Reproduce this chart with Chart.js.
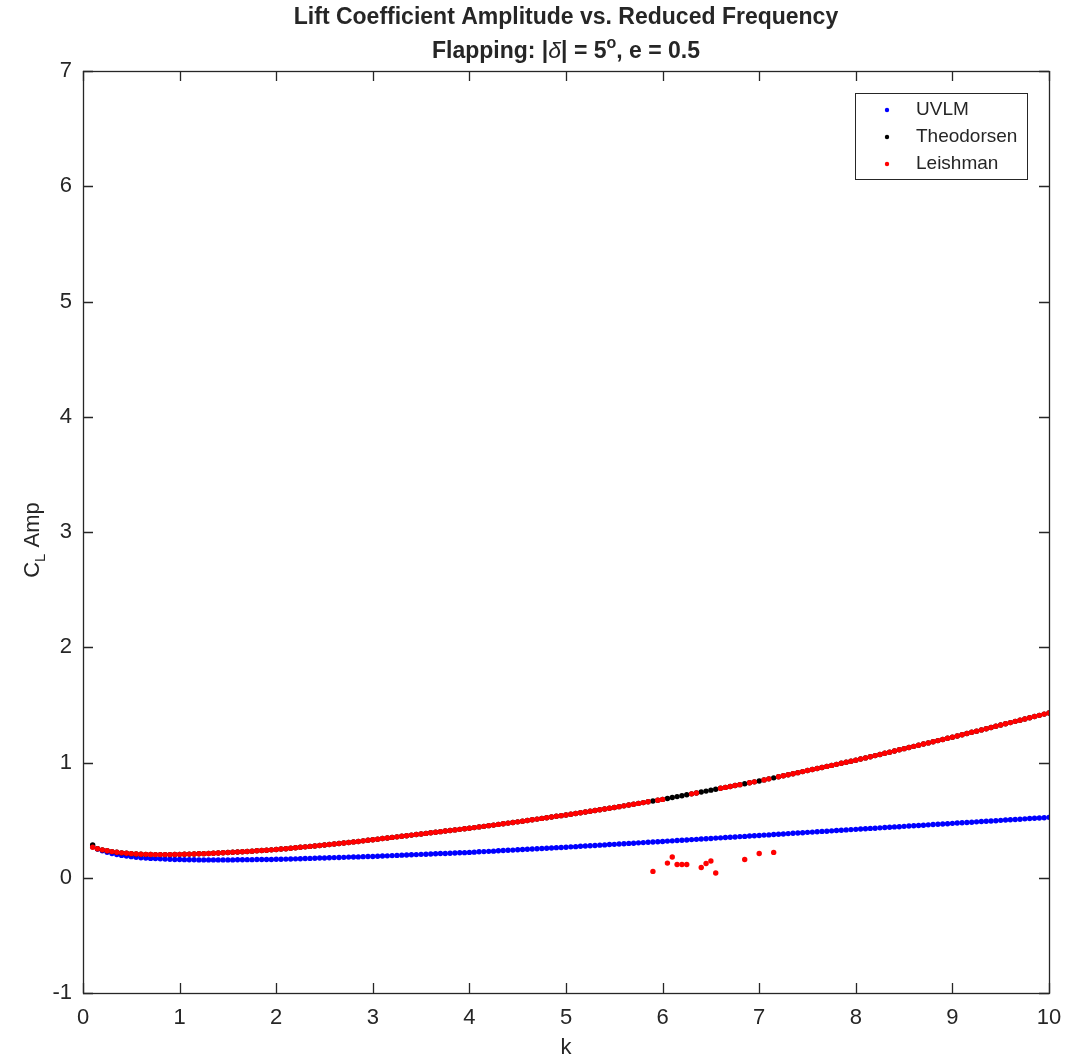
<!DOCTYPE html>
<html>
<head>
<meta charset="utf-8">
<script src="https://cdn.jsdelivr.net/npm/chart.js@4.4.0/dist/chart.umd.min.js"></script>
<style>
  html, body { margin: 0; padding: 0; background: #fff; }
</style>
</head>
<body>
<canvas id="chart" width="1067" height="1062"></canvas>
<script>
// reduced frequency grid: k = 0.1 : 0.05 : 10
const kStart = 0.1;
const kStep = 0.05;

const uvlmAmp = [
  0.270, 0.250, 0.234, 0.221, 0.210, 0.201, 0.194, 0.188, 0.183, 0.178, 0.174, 0.171, 0.168, 0.166, 0.164, 0.162, 0.160, 0.159, 0.158, 0.157,
  0.156, 0.156, 0.155, 0.155, 0.155, 0.155, 0.155, 0.155, 0.155, 0.155, 0.156, 0.156, 0.157, 0.157, 0.158, 0.158, 0.159, 0.159, 0.160,
  0.161, 0.162, 0.163, 0.164, 0.165, 0.167, 0.168, 0.169, 0.171, 0.172, 0.173, 0.175, 0.176, 0.177, 0.179, 0.180, 0.181, 0.183, 0.184, 0.185,
  0.187, 0.189, 0.190, 0.192, 0.194, 0.196, 0.197, 0.199, 0.201, 0.203, 0.204, 0.206, 0.208, 0.210, 0.211, 0.213, 0.215, 0.217, 0.218, 0.220,
  0.222, 0.225, 0.227, 0.229, 0.231, 0.234, 0.236, 0.238, 0.240, 0.243, 0.245, 0.247, 0.249, 0.252, 0.254, 0.256, 0.258, 0.261, 0.263, 0.265,
  0.268, 0.270, 0.273, 0.275, 0.278, 0.280, 0.283, 0.285, 0.288, 0.290, 0.293, 0.295, 0.298, 0.300, 0.303, 0.305, 0.308, 0.310, 0.313, 0.315,
  0.318, 0.320, 0.323, 0.325, 0.328, 0.331, 0.333, 0.336, 0.338, 0.341, 0.344, 0.346, 0.349, 0.351, 0.354, 0.357, 0.359, 0.362, 0.364, 0.367,
  0.370, 0.372, 0.375, 0.378, 0.380, 0.383, 0.386, 0.388, 0.391, 0.394, 0.396, 0.399, 0.402, 0.404, 0.407, 0.410, 0.412, 0.415, 0.418, 0.420,
  0.423, 0.425, 0.428, 0.430, 0.433, 0.436, 0.438, 0.441, 0.443, 0.446, 0.449, 0.451, 0.454, 0.456, 0.459, 0.462, 0.464, 0.467, 0.469, 0.472,
  0.475, 0.477, 0.480, 0.482, 0.485, 0.488, 0.490, 0.493, 0.495, 0.498, 0.501, 0.503, 0.506, 0.508, 0.511, 0.514, 0.516, 0.519, 0.521, 0.524
];

const theodorsenAmp = [
  0.285, 0.252, 0.242, 0.234, 0.227, 0.221, 0.216, 0.212, 0.209, 0.206, 0.204, 0.203, 0.202, 0.201, 0.201, 0.201, 0.201, 0.202, 0.203, 0.204,
  0.205, 0.206, 0.208, 0.209, 0.211, 0.213, 0.215, 0.217, 0.219, 0.221, 0.223, 0.226, 0.228, 0.231, 0.234, 0.236, 0.239, 0.242, 0.245,
  0.249, 0.252, 0.256, 0.260, 0.264, 0.268, 0.272, 0.276, 0.280, 0.284, 0.288, 0.293, 0.297, 0.302, 0.306, 0.311, 0.315, 0.320, 0.325, 0.330,
  0.335, 0.340, 0.345, 0.350, 0.355, 0.360, 0.365, 0.370, 0.375, 0.380, 0.385, 0.390, 0.395, 0.400, 0.405, 0.410, 0.415, 0.420, 0.425, 0.430,
  0.435, 0.441, 0.446, 0.452, 0.457, 0.463, 0.468, 0.474, 0.479, 0.485, 0.491, 0.497, 0.503, 0.509, 0.515, 0.521, 0.527, 0.533, 0.539, 0.545,
  0.551, 0.558, 0.564, 0.571, 0.577, 0.584, 0.590, 0.597, 0.603, 0.610, 0.617, 0.624, 0.631, 0.638, 0.645, 0.652, 0.659, 0.666, 0.673, 0.680,
  0.688, 0.696, 0.704, 0.712, 0.720, 0.728, 0.736, 0.744, 0.752, 0.760, 0.768, 0.776, 0.784, 0.792, 0.800, 0.808, 0.816, 0.824, 0.832, 0.840,
  0.849, 0.858, 0.867, 0.876, 0.885, 0.894, 0.903, 0.912, 0.921, 0.930, 0.939, 0.948, 0.957, 0.966, 0.975, 0.984, 0.993, 1.002, 1.011, 1.020,
  1.030, 1.040, 1.050, 1.060, 1.070, 1.080, 1.090, 1.100, 1.110, 1.120, 1.130, 1.140, 1.150, 1.160, 1.170, 1.180, 1.190, 1.200, 1.210, 1.220,
  1.230, 1.241, 1.251, 1.262, 1.272, 1.283, 1.293, 1.304, 1.314, 1.325, 1.336, 1.346, 1.357, 1.367, 1.378, 1.388, 1.399, 1.409, 1.420, 1.430
];

const leishmanAmp = [
  0.265, 0.252, 0.242, 0.234, 0.227, 0.221, 0.216, 0.212, 0.209, 0.206, 0.204, 0.203, 0.202, 0.201, 0.201, 0.201, 0.201, 0.202, 0.203, 0.204,
  0.205, 0.206, 0.208, 0.209, 0.211, 0.213, 0.215, 0.217, 0.219, 0.221, 0.223, 0.226, 0.228, 0.231, 0.234, 0.236, 0.239, 0.242, 0.245,
  0.249, 0.252, 0.256, 0.260, 0.264, 0.268, 0.272, 0.276, 0.280, 0.284, 0.288, 0.293, 0.297, 0.302, 0.306, 0.311, 0.315, 0.320, 0.325, 0.330,
  0.335, 0.340, 0.345, 0.350, 0.355, 0.360, 0.365, 0.370, 0.375, 0.380, 0.385, 0.390, 0.395, 0.400, 0.405, 0.410, 0.415, 0.420, 0.425, 0.430,
  0.435, 0.441, 0.446, 0.452, 0.457, 0.463, 0.468, 0.474, 0.479, 0.485, 0.491, 0.497, 0.503, 0.509, 0.515, 0.521, 0.527, 0.533, 0.539, 0.545,
  0.551, 0.558, 0.564, 0.571, 0.577, 0.584, 0.590, 0.597, 0.603, 0.610, 0.617, 0.624, 0.631, 0.638, 0.645, 0.652, 0.659, 0.055, 0.673, 0.680,
  0.127, 0.180, 0.115, 0.115, 0.115, 0.728, 0.736, 0.089, 0.124, 0.145, 0.041, 0.776, 0.784, 0.792, 0.800, 0.808, 0.159, 0.824, 0.832, 0.211,
  0.849, 0.858, 0.220, 0.876, 0.885, 0.894, 0.903, 0.912, 0.921, 0.930, 0.939, 0.948, 0.957, 0.966, 0.975, 0.984, 0.993, 1.002, 1.011, 1.020,
  1.030, 1.040, 1.050, 1.060, 1.070, 1.080, 1.090, 1.100, 1.110, 1.120, 1.130, 1.140, 1.150, 1.160, 1.170, 1.180, 1.190, 1.200, 1.210, 1.220,
  1.230, 1.241, 1.251, 1.262, 1.272, 1.283, 1.293, 1.304, 1.314, 1.325, 1.336, 1.346, 1.357, 1.367, 1.378, 1.388, 1.399, 1.409, 1.420, 1.430
];

const xTicks = [0, 1, 2, 3, 4, 5, 6, 7, 8, 9, 10];
const yTicks = [-1, 0, 1, 2, 3, 4, 5, 6, 7];

const frameColor = '#262626';
const fontFamily = "'Liberation Sans', Arial, Helvetica, sans-serif";

const kValues = uvlmAmp.map((_, i) => +(kStart + i * kStep).toFixed(2));
const toPoints = vals => vals.map((v, i) => ({ x: kValues[i], y: v }));

const series = [
  { label: 'UVLM', data: uvlmAmp, color: '#0000ff', order: 3 },
  { label: 'Theodorsen', data: theodorsenAmp, color: '#000000', order: 2 },
  { label: 'Leishman', data: leishmanAmp, color: '#ff0000', order: 1 }
];

// draws a run of text pieces (for sub/superscripts), centred on cx
function drawRich(ctx, parts, cx, cy) {
  let total = 0;
  parts.forEach(p => { ctx.font = p.font; p.w = ctx.measureText(p.t).width; total += p.w; });
  let x = cx - total / 2;
  parts.forEach(p => {
    ctx.font = p.font;
    ctx.fillText(p.t, x, cy + (p.dy || 0));
    x += p.w;
  });
}

const matlabFrame = {
  id: 'matlabFrame',
  afterDraw(chart) {
    const { ctx, chartArea: a, scales } = chart;
    const xs = scales.x, ys = scales.y;
    ctx.save();

    // axes box and inward ticks on all four sides
    ctx.strokeStyle = frameColor;
    ctx.lineWidth = 1.3;
    ctx.strokeRect(a.left + 0.5, a.top + 0.5, a.right - a.left, a.bottom - a.top);
    const tl = 10;
    ctx.beginPath();
    xTicks.forEach(v => {
      const px = Math.round(xs.getPixelForValue(v)) + 0.5;
      ctx.moveTo(px, a.bottom); ctx.lineTo(px, a.bottom - tl);
      ctx.moveTo(px, a.top); ctx.lineTo(px, a.top + tl);
    });
    yTicks.forEach(v => {
      const py = Math.round(ys.getPixelForValue(v)) + 0.5;
      ctx.moveTo(a.left, py); ctx.lineTo(a.left + tl, py);
      ctx.moveTo(a.right, py); ctx.lineTo(a.right - tl, py);
    });
    ctx.stroke();

    const cx = (a.left + a.right) / 2;
    ctx.fillStyle = frameColor;
    ctx.textBaseline = 'middle';
    ctx.textAlign = 'left';

    // title
    const bold = `bold 23px ${fontFamily}`;
    drawRich(ctx, [{ t: 'Lift Coefficient Amplitude vs. Reduced Frequency', font: bold }], cx, 18);
    drawRich(ctx, [
      { t: 'Flapping: |', font: bold },
      { t: 'δ', font: `italic 23px ${fontFamily}` },
      { t: '| = 5', font: bold },
      { t: 'o', font: `bold 16px ${fontFamily}`, dy: -8 },
      { t: ', e = 0.5', font: bold }
    ], cx, 52);

    // axis labels
    drawRich(ctx, [{ t: 'k', font: `22px ${fontFamily}` }], cx, 1048);
    ctx.save();
    ctx.translate(33, 540);
    ctx.rotate(-Math.PI / 2);
    drawRich(ctx, [
      { t: 'C', font: `22px ${fontFamily}` },
      { t: 'L', font: `15px ${fontFamily}`, dy: 8 },
      { t: ' Amp', font: `22px ${fontFamily}` }
    ], 0, 0);
    ctx.restore();

    // legend box
    const lx = 855, ly = 93, lw = 172, lh = 86;
    ctx.fillStyle = '#ffffff';
    ctx.fillRect(lx, ly, lw, lh);
    ctx.strokeStyle = frameColor;
    ctx.lineWidth = 1;
    ctx.strokeRect(lx + 0.5, ly + 0.5, lw, lh);
    ctx.font = `19px ${fontFamily}`;
    series.forEach((s, i) => {
      const yy = ly + 17 + i * 27;
      ctx.fillStyle = s.color;
      ctx.beginPath();
      ctx.arc(887, yy, 2.2, 0, Math.PI * 2);
      ctx.fill();
      ctx.fillStyle = frameColor;
      ctx.fillText(s.label, 916, yy);
    });
    ctx.restore();
  }
};

new Chart(document.getElementById('chart'), {
  type: 'scatter',
  data: {
    datasets: series.map(s => ({
      label: s.label,
      data: toPoints(s.data),
      backgroundColor: s.color,
      borderColor: s.color,
      borderWidth: 0,
      pointRadius: 2.7,
      pointHoverRadius: 2.7,
      order: s.order
    }))
  },
  options: {
    responsive: false,
    animation: false,
    devicePixelRatio: 1,
    layout: { padding: { top: 71, right: 18, left: 0, bottom: 0 } },
    plugins: {
      legend: { display: false },
      title: { display: false },
      tooltip: { enabled: false }
    },
    scales: {
      x: {
        type: 'linear',
        min: 0,
        max: 10,
        grid: { display: false, drawTicks: false },
        border: { display: false },
        ticks: { color: frameColor, font: { family: fontFamily, size: 22 }, padding: 12, maxRotation: 0 },
        afterBuildTicks: s => { s.ticks = xTicks.map(v => ({ value: v })); },
        afterFit: s => { s.height = 69; s.paddingLeft = 0; s.paddingRight = 0; }
      },
      y: {
        type: 'linear',
        min: -1,
        max: 7,
        grid: { display: false, drawTicks: false },
        border: { display: false },
        ticks: { color: frameColor, font: { family: fontFamily, size: 22 }, padding: 11 },
        afterBuildTicks: s => { s.ticks = yTicks.map(v => ({ value: v })); },
        afterFit: s => { s.width = 83; s.paddingTop = 0; s.paddingBottom = 0; }
      }
    }
  },
  plugins: [matlabFrame]
});
</script>
</body>
</html>
